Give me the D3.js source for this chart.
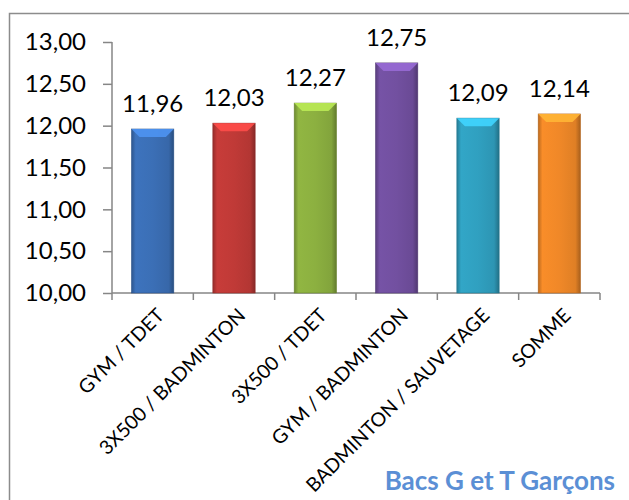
<!DOCTYPE html>
<html>
<head>
<meta charset="utf-8">
<script src="https://cdn.jsdelivr.net/npm/d3@7.9.0/dist/d3.min.js"></script>
<style>
  html, body { margin: 0; padding: 0; background: #fff; }
  svg { display: block; font-family: Lato, "Open Sans", sans-serif; }
</style>
</head>
<body>
<div id="chart"></div>
<script>
const categories = ['GYM / TDET', '3X500 / BADMINTON', '3X500 / TDET', 'GYM / BADMINTON', 'BADMINTON / SAUVETAGE', 'SOMME'];
const values = [11.96, 12.03, 12.27, 12.75, 12.09, 12.14];
const colors = ['#3b6fb6', '#c03a37', '#8cb040', '#7250a0', '#30a0c0', '#f08828'];
const yTicks = [10, 10.5, 11, 11.5, 12, 12.5, 13];
const title = 'Bacs G et T Garçons';

const width = 629;
const height = 500;
const plot = { left: 112, right: 600, top: 42, bottom: 293 };
const fmt = (d) => d3.format('.2f')(d).replace('.', ',');

const svg = d3.select('#chart').append('svg').attr('width', width).attr('height', height);

svg.append('rect')
  .attr('x', 9.5).attr('y', 13.5)
  .attr('width', 640).attr('height', 500)
  .attr('fill', 'none').attr('stroke', '#8c8c8c').attr('stroke-width', 1.5);

const x = d3.scaleBand().domain(categories).range([plot.left, plot.right]).padding(0);
const y = d3.scaleLinear().domain([10, 13]).range([plot.bottom, plot.top]);

const defs = svg.append('defs');
colors.forEach((c, i) => {
  const g = defs.append('linearGradient').attr('id', `grad${i}`).attr('x1', 0).attr('x2', 1).attr('y1', 0).attr('y2', 0);
  g.append('stop').attr('offset', '0%').attr('stop-color', d3.color(c).darker(0.7));
  g.append('stop').attr('offset', '10%').attr('stop-color', d3.color(c).brighter(0.1));
  g.append('stop').attr('offset', '50%').attr('stop-color', c);
  g.append('stop').attr('offset', '88%').attr('stop-color', d3.color(c).darker(0.2));
  g.append('stop').attr('offset', '100%').attr('stop-color', d3.color(c).darker(1));
});

// y axis
const yAxis = svg.append('g')
  .attr('transform', `translate(${plot.left},0)`)
  .call(d3.axisLeft(y).tickValues(yTicks).tickSize(9).tickPadding(6).tickFormat(fmt));
yAxis.select('.domain').attr('stroke', '#868686').attr('stroke-width', 1.5).attr('d', `M0,${plot.top}V${plot.bottom}`);
yAxis.selectAll('.tick line').attr('stroke', '#868686').attr('stroke-width', 1.5);
yAxis.selectAll('.tick text').attr('fill', '#000').attr('font-size', 24).attr('font-family', 'Lato, sans-serif').attr('dx', -11);

// x axis
const xTickPos = categories.map((c) => x(c)).concat([plot.right]);
const xAxis = svg.append('g').attr('transform', `translate(0,${plot.bottom})`);
xAxis.append('line')
  .attr('x1', plot.left).attr('x2', plot.right)
  .attr('stroke', '#868686').attr('stroke-width', 1.5);
xAxis.selectAll('line.tk').data(xTickPos).join('line').attr('class', 'tk')
  .attr('x1', (d) => d).attr('x2', (d) => d).attr('y1', 0).attr('y2', 7)
  .attr('stroke', '#868686').attr('stroke-width', 1.5);
xAxis.selectAll('text').data(categories).join('text')
  .attr('transform', (d) => `translate(${x(d) + x.bandwidth() / 2 + 3},${14}) rotate(-45)`)
  .attr('text-anchor', 'end')
  .attr('dy', '0.7em')
  .attr('font-size', 19.5)
  .attr('fill', '#000')
  .text((d) => d);

// bars
const barW = x.bandwidth() * 0.52;
const bars = svg.append('g').selectAll('g').data(categories).join('g');
bars.append('rect')
  .attr('x', (d) => x(d) + (x.bandwidth() - barW) / 2)
  .attr('y', (d, i) => y(values[i]))
  .attr('width', barW)
  .attr('height', (d, i) => plot.bottom - y(values[i]))
  .attr('fill', (d, i) => `url(#grad${i})`)
  .attr('stroke', (d, i) => d3.color(colors[i]).darker(0.8))
  .attr('stroke-width', 0.6);
bars.append('path')
  .attr('d', (d, i) => {
    const x0 = x(d) + (x.bandwidth() - barW) / 2;
    const y0 = y(values[i]);
    const b = 8;
    return `M${x0},${y0}H${x0 + barW}L${x0 + barW - b},${y0 + b}H${x0 + b}Z`;
  })
  .attr('fill', (d, i) => d3.color(colors[i]).brighter(0.8))
  .attr('opacity', 0.9);

// value labels
svg.append('g').selectAll('text').data(categories).join('text')
  .attr('x', (d) => x(d) + x.bandwidth() / 2)
  .attr('y', (d, i) => y(values[i]) - 17)
  .attr('text-anchor', 'middle')
  .attr('font-size', 24)
  .attr('fill', '#000')
  .text((d, i) => fmt(values[i]));

svg.append('text')
  .attr('x', 615).attr('y', 490)
  .attr('text-anchor', 'end')
  .attr('font-size', 26)
  .attr('font-weight', 'bold')
  .attr('fill', '#5b8fd5')
  .text(title);
</script>
</body>
</html>
